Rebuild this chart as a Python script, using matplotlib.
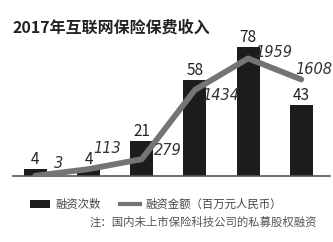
import matplotlib
matplotlib.use('Agg')
import matplotlib.pyplot as plt
from matplotlib.patches import Patch
from matplotlib.lines import Line2D

plt.rcParams['font.family'] = ['Noto Sans CJK SC', 'DejaVu Sans']

### Data ----------------------------------------------------------------------

years = ['2012', '2013', '2014', '2015', '2016', '2017']
deal_counts = [4, 4, 21, 58, 78, 43]
deal_amounts = [3, 113, 279, 1434, 1959, 1608]

title = '2017年互联网保险保费收入'
bar_name = '融资次数'
line_name = '融资金额（百万元人民币）'
note = '注：国内未上市保险科技公司的私募股权融资'

# label offsets for the line values, in pixels (dx, dy)
amount_offsets = [(23, 12), (19, 21), (26, 9), (26, -6), (26, 6), (13, 10)]

### Figure --------------------------------------------------------------------

fig = plt.figure(figsize=(3.33, 2.42), dpi=100)
ax = fig.add_axes([0.039, 0.273, 0.952, 0.562])
x = range(len(years))

ax.bar(x, deal_counts, width=0.43, color='#1c1c1c', zorder=2)
for xi, v in zip(x, deal_counts):
	ax.annotate(str(v), xy=(xi, v), xytext=(0, 1), textcoords='offset points',
		ha='center', va='bottom', fontsize=11, color='#222222')

ax.set_xlim(-0.42, 5.54)
ax.set_ylim(0, 82.4)
for s in ('top', 'right', 'left'):
	ax.spines[s].set_visible(False)
ax.spines['bottom'].set_color('#555555')
ax.spines['bottom'].set_linewidth(1.2)
ax.set_xticks([])
ax.set_yticks([])

ax2 = ax.twinx()
ax2.plot(x, deal_amounts, color='#747474', lw=4.2, solid_capstyle='round', zorder=3)
ax2.set_ylim(0, 2267)
ax2.axis('off')
for xi, v, (dx, dy) in zip(x, deal_amounts, amount_offsets):
	ax2.annotate(str(v), xy=(xi, v), xytext=(dx, dy), textcoords='offset pixels',
		ha='center', va='center', fontsize=10.5, style='italic',
		family='DejaVu Sans', color='#333333')

fig.text(0.039, 0.888, title, fontsize=11.5, fontweight='bold', color='#222222',
	ha='left', va='center')

handles = [Patch(facecolor='#1c1c1c', edgecolor='none'),
	Line2D([0], [0], color='#747474', lw=3)]
fig.legend(handles, [bar_name, line_name], loc='center left',
	bbox_to_anchor=(0.072, 0.157), ncol=2, frameon=False, fontsize=8.2,
	handlelength=1.8, handleheight=0.7, handletextpad=0.5, columnspacing=1.6,
	labelcolor='#444444', borderpad=0)

fig.text(0.952, 0.083, note, fontsize=8.2, color='#555555', ha='right', va='center')

fig.savefig('out.png', dpi=100)
